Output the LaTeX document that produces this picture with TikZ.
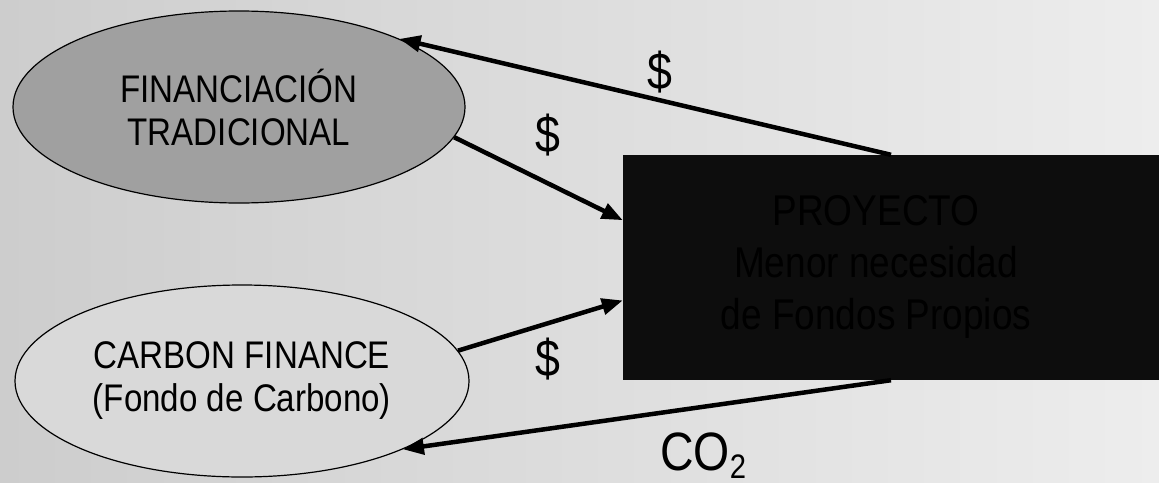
\documentclass[tikz,border=0pt]{standalone}
\usepackage{fontspec}
\setmainfont[FakeStretch=0.86]{Liberation Sans}
\usetikzlibrary{shapes.geometric,arrows.meta}
\definecolor{cieloizq}{HTML}{CDCDCD}
\definecolor{cieloder}{HTML}{EDEDED}
\definecolor{grisfuerte}{HTML}{A0A0A0}
\definecolor{grissuave}{HTML}{D9D9D9}
\definecolor{cajanegra}{HTML}{0D0D0D}
\tikzstyle{fuente}=[ellipse, draw, line width=1.2pt, inner sep=0pt, minimum width=452pt, minimum height=192pt, align=center, font=\fontsize{38.5}{43}\selectfont]
\tikzstyle{flujo}=[line width=4.5pt, -{Triangle[length=21pt,width=16pt]}]
\tikzstyle{etiqueta}=[inner sep=0pt, font=\fontsize{52}{52}\selectfont]
\newcommand{\fuente}{\node[fuente]}

\begin{document}
\begin{tikzpicture}[x=1pt,y=-1pt]
	%% sky in the back, and the page fixed to it
	\shade[left color=cieloizq, right color=cieloder] (0,0) rectangle (1159,482);
	\useasboundingbox (0,0) rectangle (1159,482);
	\fuente[fill=grisfuerte] (fin) at (239,107) {FINANCIACIÓN\\TRADICIONAL};
	\fuente[fill=grissuave, minimum width=454pt] (carb) at (242,381) {CARBON FINANCE\\(Fondo de Carbono)};
	%% the text sits a little left of the box centre, hence the space after the tabular
	\node[rectangle, fill=cajanegra, inner sep=0pt, minimum width=536pt, minimum height=225pt,
	      font=\fontsize{43}{52}\selectfont] (proy) at (891,267.5)
	      {\begin{tabular}{@{}c@{}}PROYECTO\\Menor necesidad\\de Fondos Propios\end{tabular}\hspace*{30pt}};
	\node[etiqueta] (dolA) at (660,72) {\$};
	\node[etiqueta] (dolB) at (548,135) {\$};
	\node[etiqueta] (dolC) at (548,359) {\$};
	\node[etiqueta, anchor=base west, font=\fontsize{54}{54}\selectfont] (co) at (660,470)
	      {CO\raisebox{-8pt}{\fontsize{34}{34}\selectfont 2}};
	\path
	   % money and carbon going round the project
		(proy.north) edge[flujo] (fin.23)
		(fin.-8) edge[flujo] (proy.170)
		(carb.8) edge[flujo] (proy.-173)
		(proy.south) edge[flujo] (carb.-23)
	 ;
\end{tikzpicture}
\end{document}
